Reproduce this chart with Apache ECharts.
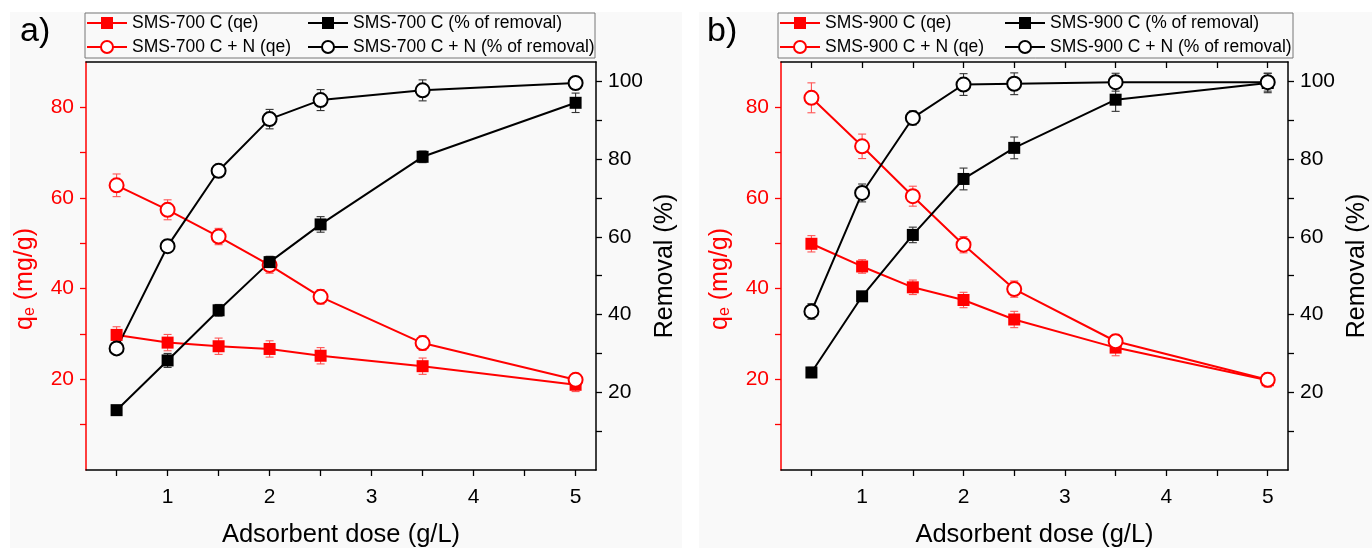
<!DOCTYPE html>
<html>
<head>
<meta charset="utf-8">
<script src="https://cdn.jsdelivr.net/npm/echarts@6/dist/echarts.min.js"></script>
<style>
  html, body { margin: 0; padding: 0; background: #fff; }
  #chart { width: 1372px; height: 548px; }
</style>
</head>
<body>
<div id="chart"></div>
<script>
// adsorbent dose (g/L)
const xDose = [0.5, 1, 1.5, 2, 2.5, 3.5, 5];

// panel a) SMS-700
const qe700 = [29.8, 28.1, 27.3, 26.7, 25.2, 22.9, 18.8];
const qe700Err = [1.8, 1.8, 1.8, 1.8, 1.8, 1.8, 1.5];
const qe700N = [62.8, 57.4, 51.5, 45.2, 38.2, 28.0, 19.9];
const qe700NErr = [2.5, 2.2, 1.8, 1.8, 1.6, 1.6, 1.3];
const rem700 = [15.4, 28.2, 41.1, 53.5, 63.2, 80.6, 94.5];
const rem700Err = [1.0, 1.8, 1.5, 1.5, 2.0, 1.5, 2.5];
const rem700N = [31.3, 57.6, 77.0, 90.3, 95.2, 97.7, 99.6];
const rem700NErr = [1.0, 1.6, 1.3, 2.5, 2.7, 2.7, 1.5];

// panel b) SMS-900
const qe900 = [49.9, 44.9, 40.3, 37.5, 33.2, 27.0, 19.8];
const qe900Err = [1.8, 1.5, 1.6, 1.7, 1.8, 1.8, 1.5];
const qe900N = [82.1, 71.4, 60.4, 49.7, 39.9, 28.4, 19.9];
const qe900NErr = [3.3, 2.7, 2.2, 1.8, 1.8, 1.5, 1.5];
const rem900 = [25.1, 44.7, 60.5, 74.9, 82.9, 95.3, 99.6];
const rem900Err = [1.3, 1.2, 2.0, 2.8, 2.8, 3.0, 2.5];
const rem900N = [40.8, 71.3, 90.6, 99.2, 99.4, 99.8, 99.8];
const rem900NErr = [2.0, 2.3, 1.8, 2.8, 2.8, 2.3, 2.3];

// ticks / labels
const xTicks = [0.5, 1, 1.5, 2, 2.5, 3, 3.5, 4, 4.5, 5];
const xLabels = [1, 2, 3, 4, 5];
const qeTicks = [10, 20, 30, 40, 50, 60, 70, 80];
const qeLabels = [20, 40, 60, 80];
const remTicks = [10, 20, 30, 40, 50, 60, 70, 80, 90, 100];
const remLabels = [20, 40, 60, 80, 100];

const FONT = 'Liberation Sans, Arial, sans-serif';
const RED = '#ff0000';

function pairs(ys) {
  return xDose.map((x, i) => [x, ys[i]]);
}

function errSeries(ys, errs, xi, yi, color) {
  return {
    type: 'custom',
    xAxisIndex: xi,
    yAxisIndex: yi,
    z: 1,
    silent: true,
    data: xDose.map((x, i) => [x, ys[i], errs[i]]),
    renderItem: function (params, api) {
      const x = api.value(0), y = api.value(1), e = api.value(2);
      const top = api.coord([x, y + e]);
      const bot = api.coord([x, y - e]);
      const w = 4;
      const st = { stroke: color, lineWidth: 1.1 };
      return {
        type: 'group',
        children: [
          { type: 'line', shape: { x1: top[0], y1: top[1], x2: bot[0], y2: bot[1] }, style: st },
          { type: 'line', shape: { x1: top[0] - w, y1: top[1], x2: top[0] + w, y2: top[1] }, style: st },
          { type: 'line', shape: { x1: bot[0] - w, y1: bot[1], x2: bot[0] + w, y2: bot[1] }, style: st }
        ]
      };
    }
  };
}

function lineSeries(name, ys, xi, yi, color, filled) {
  return {
    name: name,
    type: 'line',
    xAxisIndex: xi,
    yAxisIndex: yi,
    z: 3,
    data: pairs(ys),
    symbol: filled ? 'rect' : 'emptyCircle',
    symbolSize: filled ? 12 : 14,
    lineStyle: { color: color, width: 2 },
    itemStyle: { color: color, borderColor: color, borderWidth: filled ? 0 : 1.5 },
    emphasis: { disabled: true },
    animation: false
  };
}

function xAxes(gi, topTicks) {
  return [
    {
      gridIndex: gi, type: 'value', position: 'bottom', min: 0.2, max: 5.2,
      axisLine: { show: true, onZero: false, lineStyle: { color: '#000', width: 1.5 } },
      axisTick: { show: true, customValues: xTicks, length: 6, lineStyle: { color: '#000', width: 1.3 } },
      axisLabel: { customValues: xLabels, fontSize: 21, color: '#000', fontFamily: FONT, margin: 17 },
      splitLine: { show: false },
      name: 'Adsorbent dose (g/L)', nameLocation: 'middle', nameGap: 52,
      nameTextStyle: { fontSize: 25.5, color: '#000', fontFamily: FONT }
    },
    {
      gridIndex: gi, type: 'value', position: 'top', min: 0.2, max: 5.2,
      axisLine: { show: true, onZero: false, lineStyle: { color: '#000', width: 1.5 } },
      axisTick: { show: topTicks, inside: true, customValues: xTicks, length: 6, lineStyle: { color: '#000', width: 1.3 } },
      axisLabel: { show: false },
      splitLine: { show: false }
    }
  ];
}

function yAxes(gi) {
  return [
    {
      gridIndex: gi, type: 'value', position: 'left', min: 0, max: 90,
      axisLine: { show: true, onZero: false, lineStyle: { color: RED, width: 1.5 } },
      axisTick: { show: true, customValues: qeTicks, length: 6, lineStyle: { color: RED, width: 1.3 } },
      axisLabel: { customValues: qeLabels, fontSize: 21, color: RED, fontFamily: FONT, margin: 12 },
      splitLine: { show: false },
      name: '{q|q}{e|e}{q| (mg/g)}', nameLocation: 'middle', nameGap: 48, nameRotate: 90,
      nameTextStyle: {
        color: RED,
        padding: [0, 26, 0, 0],
        rich: {
          q: { fontSize: 25, color: RED, fontFamily: FONT },
          e: { fontSize: 16, color: RED, fontFamily: FONT, verticalAlign: 'bottom' }
        }
      }
    },
    {
      gridIndex: gi, type: 'value', position: 'right', min: 0, max: 105,
      axisLine: { show: true, onZero: false, lineStyle: { color: '#000', width: 1.5 } },
      axisTick: { show: true, customValues: remTicks, length: 6, lineStyle: { color: '#000', width: 1.3 } },
      axisLabel: { customValues: remLabels, fontSize: 21, color: '#000', fontFamily: FONT, margin: 12 },
      splitLine: { show: false },
      name: 'Removal (%)', nameLocation: 'middle', nameGap: 57, nameRotate: 90,
      nameTextStyle: { fontSize: 25, color: '#000', fontFamily: FONT }
    }
  ];
}

function legend(names, left) {
  return {
    data: names, left: left, top: 13, orient: 'vertical', padding: 0,
    itemWidth: 40, itemHeight: 15, itemGap: 4,
    textStyle: { fontSize: 17.5, color: '#000', fontFamily: FONT, lineHeight: 20 },
    selectedMode: false
  };
}

const nA = ['SMS-700 C (qe)', 'SMS-700 C + N (qe)', 'SMS-700 C (% of removal)', 'SMS-700 C + N (% of removal)'];
const nB = ['SMS-900 C (qe)', 'SMS-900 C + N (qe)', 'SMS-900 C (% of removal)', 'SMS-900 C + N (% of removal)'];

const chart = echarts.init(document.getElementById('chart'), null, { renderer: 'canvas' });

chart.setOption({
  backgroundColor: '#fff',
  animation: false,
  graphic: [
    { type: 'rect', z: -10, shape: { x: 10, y: 12, width: 672, height: 536 }, style: { fill: '#f9f9f9' } },
    { type: 'rect', z: -10, shape: { x: 699, y: 12, width: 673, height: 536 }, style: { fill: '#f9f9f9' } },
    { type: 'rect', z: -5, shape: { x: 85, y: 13, width: 510, height: 45 }, style: { fill: 'none', stroke: '#777', lineWidth: 1 } },
    { type: 'rect', z: -5, shape: { x: 778, y: 13, width: 515, height: 45 }, style: { fill: 'none', stroke: '#777', lineWidth: 1 } },
    { type: 'text', x: 20, y: 15, style: { text: 'a)', fontSize: 34, fill: '#000', fontFamily: FONT } },
    { type: 'text', x: 707, y: 15, style: { text: 'b)', fontSize: 34, fill: '#000', fontFamily: FONT } }
  ],
  legend: [
    legend([nA[0], nA[1]], 86),
    legend([nA[2], nA[3]], 307),
    legend([nB[0], nB[1]], 779),
    legend([nB[2], nB[3]], 1004)
  ],
  grid: [
    { left: 86, top: 62, width: 510, height: 408, outerBoundsMode: 'none' },
    { left: 781, top: 62, width: 507, height: 408, outerBoundsMode: 'none' }
  ],
  xAxis: xAxes(0, false).concat(xAxes(1, true)),
  yAxis: yAxes(0).concat(yAxes(1)),
  series: [
    errSeries(qe700, qe700Err, 0, 0, '#ff5555'),
    errSeries(qe700N, qe700NErr, 0, 0, '#ff5555'),
    errSeries(rem700, rem700Err, 0, 1, '#333'),
    errSeries(rem700N, rem700NErr, 0, 1, '#333'),
    lineSeries(nA[0], qe700, 0, 0, RED, true),
    lineSeries(nA[1], qe700N, 0, 0, RED, false),
    lineSeries(nA[2], rem700, 0, 1, '#000', true),
    lineSeries(nA[3], rem700N, 0, 1, '#000', false),

    errSeries(qe900, qe900Err, 2, 2, '#ff5555'),
    errSeries(qe900N, qe900NErr, 2, 2, '#ff5555'),
    errSeries(rem900, rem900Err, 2, 3, '#333'),
    errSeries(rem900N, rem900NErr, 2, 3, '#333'),
    lineSeries(nB[0], qe900, 2, 2, RED, true),
    lineSeries(nB[1], qe900N, 2, 2, RED, false),
    lineSeries(nB[2], rem900, 2, 3, '#000', true),
    lineSeries(nB[3], rem900N, 2, 3, '#000', false)
  ]
});
</script>
</body>
</html>
